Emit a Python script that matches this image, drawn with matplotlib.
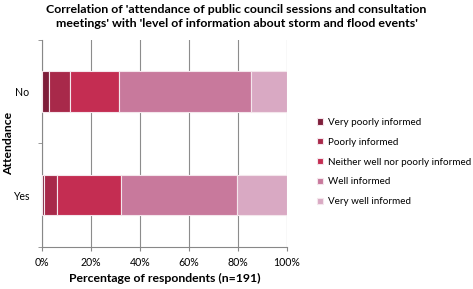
import matplotlib.pyplot as plt
import numpy as np

plt.rcParams['font.family'] = ['Lato', 'DejaVu Sans']

groups = ['Yes', 'No']
levels = ['Very poorly informed', 'Poorly informed', 'Neither well nor poorly informed',
          'Well informed', 'Very well informed']
very_poor = [0.8, 2.7]
poor = [5.1, 8.8]
neither = [26.1, 19.9]
well = [47.6, 53.7]
very_well = [20.4, 14.9]
xticks = [0, 20, 40, 60, 80, 100]

colors = ['#7E1E3A', '#A8294A', '#C42D52', '#C8799C', '#D9A9C3']
series = [very_poor, poor, neither, well, very_well]

fig = plt.figure(figsize=(4.73, 2.89), dpi=100)
ax = fig.add_axes([0.089, 0.145, 0.518, 0.717])

y = np.arange(len(groups))
left = np.zeros(len(groups))
for vals, col, lab in zip(series, colors, levels):
    ax.barh(y, vals, left=left, height=0.39, color=col, edgecolor='#f4e6ec',
            linewidth=0.8, label=lab, zorder=3)
    left += np.array(vals)

ax.set_xlim(0, 100)
ax.set_ylim(-0.5, 1.5)
ax.set_xticks(xticks)
ax.set_xticklabels([f'{t}%' for t in xticks], fontsize=7.6)
ax.set_yticks(y)
ax.set_yticklabels(groups, fontsize=7.6)
ax.set_yticks([-0.5, 0.5, 1.5], minor=True)
ax.tick_params(axis='y', which='major', length=0, pad=9)
ax.tick_params(axis='y', which='minor', length=3, color='#888888')
ax.tick_params(axis='x', length=3, color='#888888', pad=4)
ax.grid(axis='x', color='#8c8c8c', linewidth=0.8, zorder=0)
for s in ['top', 'right']:
    ax.spines[s].set_visible(False)
for s in ['left', 'bottom']:
    ax.spines[s].set_color('#888888')
    ax.spines[s].set_linewidth(0.8)

ax.set_xlabel('Percentage of respondents (n=191)', fontsize=8.8, fontweight='bold', labelpad=4)
fig.text(9 / 473, 0.505, 'Attendance', rotation=90, fontsize=8.8, fontweight='bold',
         ha='center', va='center')
fig.suptitle("Correlation of 'attendance of public council sessions and consultation\n"
             "meetings' with 'level of information about storm and flood events'",
             fontsize=8.9, fontweight='bold', y=0.985, linespacing=1.3)

ax.legend(loc='center left', bbox_to_anchor=(1.105, 0.41), frameon=False, fontsize=7.1,
          handlelength=0.6, handleheight=0.6, handletextpad=0.5, labelspacing=1.1,
          borderaxespad=0)

fig.savefig('out.png', dpi=100)
